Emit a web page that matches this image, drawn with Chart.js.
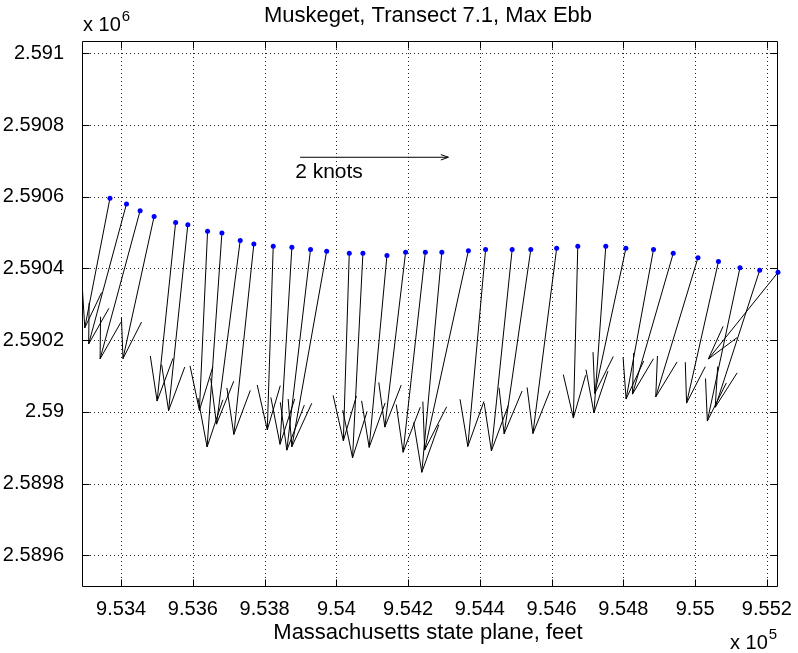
<!DOCTYPE html>
<html>
<head>
<meta charset="utf-8">
<script src="https://cdn.jsdelivr.net/npm/chart.js@4.4.0/dist/chart.umd.min.js"></script>
<style>
  html, body { margin: 0; padding: 0; background: #fff; }
  #wrap { width: 798px; height: 653px; }
</style>
</head>
<body>
<div id="wrap"><canvas id="c" width="798" height="653"></canvas></div>
<script>
// Transect 7.1 stations, Massachusetts state plane (feet)
const eastings = [953369, 953415, 953453, 953492, 953552, 953586, 953641, 953681, 953732, 953770,
                  953824, 953876, 953928, 953973, 954036, 954074, 954141, 954193, 954248, 954294,
                  954368, 954416, 954490, 954542, 954614, 954673, 954751, 954807, 954884, 954939,
                  955008, 955065, 955125, 955180, 955231];
const northings = [2590596, 2590580, 2590561, 2590545, 2590528, 2590522, 2590504, 2590499, 2590478, 2590468,
                   2590462, 2590459, 2590453, 2590448, 2590442, 2590442, 2590436, 2590445, 2590445, 2590445,
                   2590449, 2590453, 2590453, 2590453, 2590456, 2590462, 2590462, 2590456, 2590453, 2590442,
                   2590430, 2590419, 2590402, 2590395, 2590389];
// Max ebb current at each station, knots (east, north components)
const uKnots = [-0.34, -0.51, -0.54, -0.42, -0.25, -0.26, -0.11, -0.20, -0.32, -0.27,
                -0.08, -0.16, -0.32, -0.47, -0.08, -0.14, -0.24, -0.28, -0.30, -0.27,
                -0.59, -0.24, -0.28, -0.36, -0.32, -0.06, -0.16, -0.42, -0.37, -0.55,
                -0.57, -0.43, -0.44, -0.60, -0.94];
const vKnots = [-1.75, -1.89, -2.00, -1.92, -2.41, -2.51, -2.42, -2.89, -2.48, -2.57,
                -2.48, -2.66, -2.71, -2.64, -2.53, -2.76, -2.59, -2.36, -2.70, -2.97,
                -2.69, -2.66, -2.72, -2.49, -2.50, -2.32, -2.25, -1.96, -2.02, -1.90,
                -1.88, -1.91, -2.07, -1.85, -1.17];

// Vector scale and the "2 knots" key arrow
const feetPerKnot = 206.6;
const keyOrigin = [953899, 2590710];
const keyKnots = 2;
const keyLabel = '2 knots';

// Axes
const xLimits = [953291, 955231];
const yLimits = [2589511.5, 2591034.3];
const xTickValues = [953400, 953600, 953800, 954000, 954200, 954400, 954600, 954800, 955000, 955200];
const xTickLabels = ['9.534', '9.536', '9.538', '9.54', '9.542', '9.544', '9.546', '9.548', '9.55', '9.552'];
const yTickValues = [2589600, 2589800, 2590000, 2590200, 2590400, 2590600, 2590800, 2591000];
const yTickLabels = ['2.5896', '2.5898', '2.59', '2.5902', '2.5904', '2.5906', '2.5908', '2.591'];

const titleText = 'Muskeget, Transect 7.1, Max Ebb';
const xAxisTitle = 'Massachusetts state plane, feet';

const FONT = "'Liberation Sans', Arial, Helvetica, sans-serif";

// Shaft segments: base -> tip, separated by gaps
const shaftPoints = [];
eastings.forEach((e, i) => {
  const n = northings[i];
  const te = e + uKnots[i] * feetPerKnot;
  const tn = n + vKnots[i] * feetPerKnot;
  shaftPoints.push({x: e, y: n}, {x: te, y: tn}, {x: te, y: null});
});
const stationPoints = eastings.map((e, i) => ({x: e, y: northings[i]}));
const keyPoints = [
  {x: keyOrigin[0], y: keyOrigin[1]},
  {x: keyOrigin[0] + keyKnots * feetPerKnot, y: keyOrigin[1]}
];

function drawHead(ctx, bx, by, tx, ty, len, ang) {
  const dx = bx - tx, dy = by - ty;
  const L = Math.hypot(dx, dy);
  if (!L) return;
  const ux = dx / L, uy = dy / L;
  const c = Math.cos(ang), s = Math.sin(ang);
  const ax = tx + len * (ux * c - uy * s), ay = ty + len * (ux * s + uy * c);
  const cx = tx + len * (ux * c + uy * s), cy = ty + len * (-ux * s + uy * c);
  ctx.moveTo(ax, ay);
  ctx.lineTo(tx, ty);
  ctx.lineTo(cx, cy);
}

const decorations = {
  id: 'decorations',
  beforeDatasetsDraw(chart) {
    const {ctx, chartArea: a, scales: {x, y}} = chart;
    ctx.save();
    // dotted grid
    ctx.strokeStyle = '#222';
    ctx.lineWidth = 1;
    ctx.setLineDash([1, 3]);
    ctx.beginPath();
    xTickValues.forEach(v => {
      const px = Math.round(x.getPixelForValue(v)) + 0.5;
      ctx.moveTo(px, a.top); ctx.lineTo(px, a.bottom);
    });
    yTickValues.forEach(v => {
      const py = Math.round(y.getPixelForValue(v)) + 0.5;
      ctx.moveTo(a.left, py); ctx.lineTo(a.right, py);
    });
    ctx.stroke();
    ctx.restore();
  },
  afterDatasetsDraw(chart) {
    const {ctx, chartArea: a, scales: {x, y}} = chart;
    ctx.save();
    ctx.beginPath();
    ctx.rect(a.left, a.top, a.right - a.left, a.bottom - a.top);
    ctx.clip();
    // arrow heads
    ctx.strokeStyle = '#000';
    ctx.lineWidth = 1;
    ctx.beginPath();
    eastings.forEach((e, i) => {
      const n = northings[i];
      const bx = x.getPixelForValue(e), by = y.getPixelForValue(n);
      const tx = x.getPixelForValue(e + uKnots[i] * feetPerKnot);
      const ty = y.getPixelForValue(n + vKnots[i] * feetPerKnot);
      const L = Math.hypot(bx - tx, by - ty);
      drawHead(ctx, bx, by, tx, ty, 3.4 * Math.sqrt(L), 14.5 * Math.PI / 180);
    });
    // key arrow head
    const kb = keyPoints[0], kt = keyPoints[1];
    drawHead(ctx, x.getPixelForValue(kb.x), y.getPixelForValue(kb.y),
             x.getPixelForValue(kt.x), y.getPixelForValue(kt.y), 8, 20 * Math.PI / 180);
    ctx.stroke();
    ctx.restore();

    ctx.save();
    // box and inward tick marks
    ctx.strokeStyle = '#000';
    ctx.lineWidth = 1;
    ctx.beginPath();
    const L0 = Math.round(a.left) + 0.5, R0 = Math.round(a.right) - 0.5;
    const T0 = Math.round(a.top) + 0.5, B0 = Math.round(a.bottom) - 0.5;
    ctx.rect(L0, T0, R0 - L0, B0 - T0);
    const tk = 7;
    xTickValues.forEach(v => {
      const px = Math.round(x.getPixelForValue(v)) + 0.5;
      ctx.moveTo(px, B0); ctx.lineTo(px, B0 - tk);
      ctx.moveTo(px, T0); ctx.lineTo(px, T0 + tk);
    });
    yTickValues.forEach(v => {
      const py = Math.round(y.getPixelForValue(v)) + 0.5;
      ctx.moveTo(L0, py); ctx.lineTo(L0 + tk, py);
      ctx.moveTo(R0, py); ctx.lineTo(R0 - tk, py);
    });
    ctx.stroke();

    // texts
    ctx.fillStyle = '#000';
    ctx.textBaseline = 'alphabetic';
    ctx.font = '22px ' + FONT;
    ctx.textAlign = 'center';
    ctx.fillText(titleText, (a.left + a.right) / 2 - 2, 22);
    ctx.fillText(xAxisTitle, (a.left + a.right) / 2 - 2, 639);

    ctx.textAlign = 'left';
    ctx.font = '21px ' + FONT;
    ctx.fillText(keyLabel, x.getPixelForValue(keyOrigin[0]) - 5, y.getPixelForValue(keyOrigin[1]) + 21);

    // exponent labels
    ctx.font = '20px ' + FONT;
    ctx.fillText('x 10', a.left + 1, 31);
    let w = ctx.measureText('x 10').width;
    ctx.font = '15px ' + FONT;
    ctx.fillText('6', a.left + 1 + w + 1, 21);

    ctx.font = '20px ' + FONT;
    const xs = a.right - 48;
    ctx.fillText('x 10', xs, 649);
    w = ctx.measureText('x 10').width;
    ctx.font = '15px ' + FONT;
    ctx.fillText('5', xs + w + 1, 639);
    ctx.restore();
  }
};

const tickFont = {family: FONT, size: 20};

new Chart(document.getElementById('c'), {
  type: 'scatter',
  data: {
    datasets: [
      {
        label: 'stations',
        data: stationPoints,
        pointRadius: 2.5,
        pointStyle: 'circle',
        backgroundColor: '#0000ff',
        borderColor: '#0000ff',
        borderWidth: 0,
        showLine: false,
        clip: false,
        order: 0
      },
      {
        label: 'current',
        data: shaftPoints,
        showLine: true,
        spanGaps: false,
        pointRadius: 0,
        borderColor: '#000',
        borderWidth: 1,
        order: 1
      },
      {
        label: 'key',
        data: keyPoints,
        showLine: true,
        pointRadius: 0,
        borderColor: '#000',
        borderWidth: 1,
        order: 2
      }
    ]
  },
  options: {
    responsive: false,
    animation: false,
    events: [],
    layout: {padding: {top: 41, right: 20, left: 0, bottom: 0}},
    plugins: {
      legend: {display: false},
      tooltip: {enabled: false},
      title: {display: false}
    },
    scales: {
      x: {
        type: 'linear',
        min: xLimits[0],
        max: xLimits[1],
        grid: {display: false},
        border: {display: false},
        afterBuildTicks: s => { s.ticks = xTickValues.map(v => ({value: v})); },
        afterFit: s => { s.height = 66; },
        ticks: {
          autoSkip: false, maxRotation: 0, minRotation: 0, padding: 2, color: '#000',
          font: tickFont,
          callback: (v, i) => xTickLabels[i]
        }
      },
      y: {
        type: 'linear',
        min: yLimits[0],
        max: yLimits[1],
        grid: {display: false},
        border: {display: false},
        afterBuildTicks: s => { s.ticks = yTickValues.map(v => ({value: v})); },
        afterFit: s => { s.width = 82; },
        ticks: {
          autoSkip: false, padding: 10, color: '#000',
          font: tickFont,
          callback: (v, i) => yTickLabels[i]
        }
      }
    }
  },
  plugins: [decorations]
});
</script>
</body>
</html>
